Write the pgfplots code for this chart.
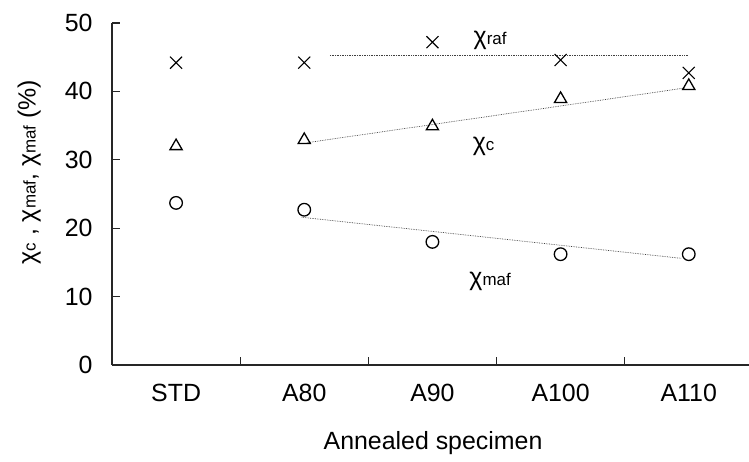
\documentclass[border=0pt]{standalone}
\usepackage{fontspec}
\setmainfont{Liberation Sans}
\usepackage{pgfplots}
\pgfplotsset{compat=1.18}
\newcommand{\chisub}[1]{χ{\fontsize{17}{17}\selectfont #1}}
\begin{document}
\begin{tikzpicture}
\path[use as bounding box] (-112bp,-97bp) rectangle (637bp,365bp);
\begin{axis}[
  at={(0,0)}, anchor=south west,
  scale only axis, width=637bp, height=342bp,
  xmin=-0.5, xmax=4.47, ymin=0, ymax=50,
  axis lines=left, axis line style={-, line width=1.1pt, black!85},
  xtick={0,1,2,3,4},
  xticklabels={STD,A80,A90,A100,A110},
  minor xtick={0.5,1.5,2.5,3.5},
  ytick={0,10,...,50},
  tick align=inside,
  major x tick style={draw=none},
  major tick length=8bp, minor tick length=8bp,
  every tick/.style={line width=1.1pt, black!85},
  tick label style={font=\fontsize{25}{28}\selectfont},
  /pgf/number format/assume math mode=true,
  yticklabel style={xshift=-16bp},
  xticklabel style={yshift=-16bp},
  xlabel={Annealed specimen},
  xlabel style={font=\fontsize{25}{28}\selectfont, at={(axis description cs:0.504,-0.228)}, anchor=center},
  ylabel={\chisub{c} , \chisub{maf}, \chisub{maf} (\%)},
  ylabel style={font=\fontsize{25}{28}\selectfont, at={(axis description cs:-0.13,0.564)}, anchor=center},
  clip=false,
]
% trend lines
\addplot[densely dotted, line width=0.7pt, black!75] coordinates {(1.2,45.2) (4.0,45.2)};
\addplot[densely dotted, line width=0.7pt, black!75] coordinates {(1.02,32.5) (3.97,40.5)};
\addplot[densely dotted, line width=0.7pt, black!75] coordinates {(0.98,21.6) (3.94,15.6)};
% data
\addplot[only marks, mark=x, mark size=8.5bp, line width=1.1pt] coordinates {
 (0,44.2) (1,44.2) (2,47.2) (3,44.6) (4,42.7)};
\addplot[only marks, mark=triangle, mark size=7bp, line width=1.3pt] coordinates {
 (0,32.0) (1,32.9) (2,34.9) (3,38.9) (4,40.8)};
\addplot[only marks, mark=o, mark size=6.3bp, line width=1.3pt] coordinates {
 (0,23.7) (1,22.7) (2,18.0) (3,16.2) (4,16.2)};
\node[font=\fontsize{25}{28}\selectfont] at (axis cs:2.45,47.5) {\chisub{raf}};
\node[font=\fontsize{25}{28}\selectfont] at (axis cs:2.4,32.0) {\chisub{c}};
\node[font=\fontsize{25}{28}\selectfont] at (axis cs:2.45,12.2) {\chisub{maf}};
\end{axis}
\end{tikzpicture}
\end{document}
